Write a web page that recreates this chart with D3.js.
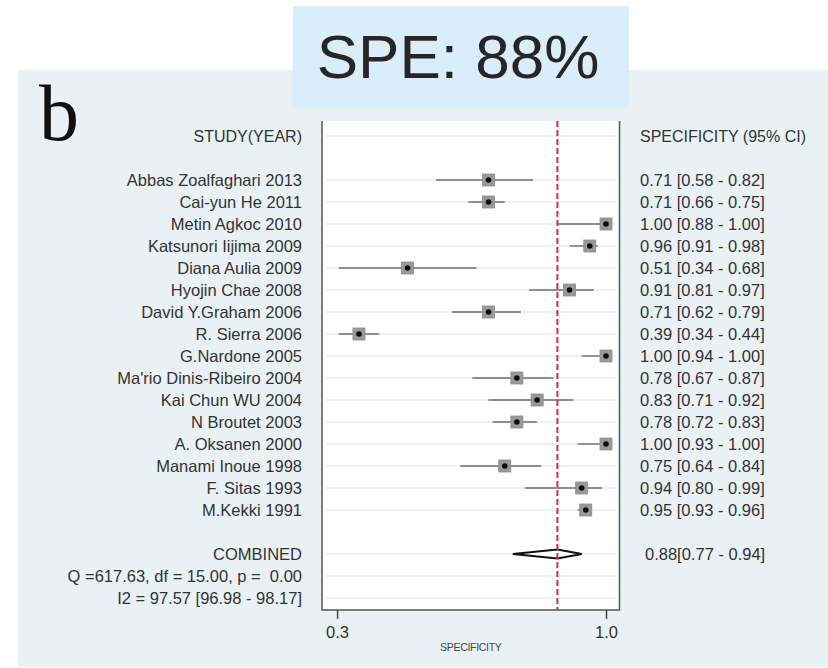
<!DOCTYPE html>
<html>
<head>
<meta charset="utf-8">
<script src="https://cdn.jsdelivr.net/npm/d3@7"></script>
<style>
  body { margin: 0; background: #ffffff; }
  text { font-family: "Liberation Sans", Arial, sans-serif; fill: #333333; }
</style>
</head>
<body>
<div id="chart"></div>
<script>
/* DATA */
const studies = [
  "Abbas Zoalfaghari 2013", "Cai-yun He 2011", "Metin Agkoc 2010", "Katsunori Iijima 2009",
  "Diana Aulia 2009", "Hyojin Chae 2008", "David Y.Graham 2006", "R. Sierra 2006",
  "G.Nardone 2005", "Ma'rio Dinis-Ribeiro 2004", "Kai Chun WU 2004", "N Broutet 2003",
  "A. Oksanen 2000", "Manami Inoue 1998", "F. Sitas 1993", "M.Kekki 1991"
];
const spec  = [0.71, 0.71, 1.00, 0.96, 0.51, 0.91, 0.71, 0.39, 1.00, 0.78, 0.83, 0.78, 1.00, 0.75, 0.94, 0.95];
const lower = [0.58, 0.66, 0.88, 0.91, 0.34, 0.81, 0.62, 0.34, 0.94, 0.67, 0.71, 0.72, 0.93, 0.64, 0.80, 0.93];
const upper = [0.82, 0.75, 1.00, 0.98, 0.68, 0.97, 0.79, 0.44, 1.00, 0.87, 0.92, 0.83, 1.00, 0.84, 0.99, 0.96];
const combined = { est: 0.88, lo: 0.77, hi: 0.94 };
const statLines = ["Q =617.63, df = 15.00, p =  0.00", "I2 = 97.57 [96.98 - 98.17]"];
const xTicks = [0.336, 1.0];

/* LAYOUT */
const width = 828, height = 668;
const plot = { left: 322, right: 619.5, top: 121, bottom: 610 };
const fmt = d3.format(".2f");

const svg = d3.select("#chart").append("svg")
  .attr("width", width)
  .attr("height", height);

// panel background + title box
svg.append("rect").attr("x", 18).attr("y", 70).attr("width", width - 18).attr("height", 597)
  .attr("fill", "#e9f1f4");
svg.append("rect").attr("x", 293).attr("y", 6).attr("width", 336).attr("height", 101)
  .attr("fill", "#d9eefa");
svg.append("text").attr("x", 458).attr("y", 78).attr("text-anchor", "middle")
  .attr("font-size", 62).style("fill", "#262626").text("SPE: 88%");
svg.append("text").attr("x", 39).attr("y", 140)
  .style("font-family", "'Liberation Serif', 'Times New Roman', serif")
  .attr("font-size", 80).style("fill", "#111").text("b");

// scales
const xScale = d3.scaleLinear().domain([0.3, 1.0]).range([322.5, 606]);
const yScale = d3.scaleLinear().domain([0, 21]).range([136, 598]);
const studyRow = i => i + 2;

// plot area
svg.append("rect")
  .attr("x", plot.left).attr("y", plot.top)
  .attr("width", plot.right - plot.left).attr("height", plot.bottom - plot.top)
  .attr("fill", "#ffffff");

// grid lines on rows with content
const gridRows = [0].concat(studies.map((d, i) => studyRow(i)), [19, 20, 21]);
svg.append("g").selectAll("line").data(gridRows).join("line")
  .attr("x1", plot.left + 4).attr("x2", plot.right - 3)
  .attr("y1", d => yScale(d)).attr("y2", d => yScale(d))
  .attr("stroke", "#e4ecf0").attr("stroke-width", 1.5);

// frame (left, bottom, right)
svg.append("path")
  .attr("d", `M${plot.left},${plot.top}V${plot.bottom}H${plot.right}V${plot.top}`)
  .attr("fill", "none").attr("stroke", "#555").attr("stroke-width", 1.5);

// axis
const xAxis = d3.axisBottom(xScale)
  .tickValues(xTicks)
  .tickFormat(d3.format(".1f"))
  .tickSize(9)
  .tickPadding(7);
const axisG = svg.append("g")
  .attr("transform", `translate(0,${plot.bottom})`)
  .call(xAxis);
axisG.select(".domain").remove();
axisG.selectAll(".tick line").attr("stroke", "#444").attr("stroke-width", 1.5);
axisG.selectAll(".tick text").attr("font-size", 16.5).style("fill", "#333");

svg.append("text").attr("x", (plot.left + plot.right) / 2).attr("y", 651)
  .attr("text-anchor", "middle").attr("font-size", 10.5).style("letter-spacing", "-0.3px")
  .style("fill", "#444").text("SPECIFICITY");

// confidence intervals
const rows = studies.map((s, i) => ({ name: s, est: spec[i], lo: lower[i], hi: upper[i], row: studyRow(i) }));

svg.append("g").selectAll("line").data(rows).join("line")
  .attr("x1", d => xScale(d.lo)).attr("x2", d => xScale(d.hi))
  .attr("y1", d => yScale(d.row)).attr("y2", d => yScale(d.row))
  .attr("stroke", "#6e6e6e").attr("stroke-width", 1.4);

// markers
const sq = 12;
svg.append("g").selectAll("rect").data(rows).join("rect")
  .attr("x", d => xScale(d.est) - sq / 2).attr("y", d => yScale(d.row) - sq / 2)
  .attr("width", sq).attr("height", sq)
  .attr("fill", "#999").attr("stroke", "#8a8a8a").attr("stroke-width", 0.8);
svg.append("g").selectAll("circle").data(rows).join("circle")
  .attr("cx", d => xScale(d.est)).attr("cy", d => yScale(d.row))
  .attr("r", 2.8).attr("fill", "#0d0d0d");

// combined diamond
const cy = yScale(19);
svg.append("path")
  .attr("d", `M${xScale(combined.lo)},${cy}L${xScale(combined.est)},${cy - 4.5}L${xScale(combined.hi)},${cy}L${xScale(combined.est)},${cy + 4.5}Z`)
  .attr("fill", "#fff").attr("stroke", "#111").attr("stroke-width", 2);

// reference line at pooled estimate
svg.append("line")
  .attr("x1", xScale(combined.est)).attr("x2", xScale(combined.est))
  .attr("y1", plot.top).attr("y2", plot.bottom)
  .attr("stroke", "#d8284f").attr("stroke-width", 2)
  .attr("stroke-dasharray", "6,3");

// left labels
const leftX = 302, rightX = 640;
svg.append("text").attr("x", leftX).attr("y", yScale(0)).attr("dy", "0.36em")
  .attr("text-anchor", "end").attr("font-size", 16).text("STUDY(YEAR)");
svg.append("text").attr("x", rightX).attr("y", yScale(0)).attr("dy", "0.36em")
  .attr("font-size", 16).text("SPECIFICITY (95% CI)");

svg.append("g").selectAll("text").data(rows).join("text")
  .attr("x", leftX).attr("y", d => yScale(d.row)).attr("dy", "0.36em")
  .attr("text-anchor", "end").attr("font-size", 16.5)
  .text(d => d.name);

svg.append("g").selectAll("text").data(rows).join("text")
  .attr("x", rightX).attr("y", d => yScale(d.row)).attr("dy", "0.36em")
  .attr("font-size", 16.5)
  .text(d => `${fmt(d.est)} [${fmt(d.lo)} - ${fmt(d.hi)}]`);

svg.append("text").attr("x", leftX).attr("y", yScale(19)).attr("dy", "0.36em")
  .attr("text-anchor", "end").attr("font-size", 16.5).text("COMBINED");
svg.append("text").attr("x", rightX + 5).attr("y", yScale(19)).attr("dy", "0.36em")
  .attr("font-size", 16.5)
  .text(`${fmt(combined.est)}[${fmt(combined.lo)} - ${fmt(combined.hi)}]`);

svg.append("g").selectAll("text").data(statLines).join("text")
  .attr("x", leftX).attr("y", (d, i) => yScale(20 + i)).attr("dy", "0.36em")
  .attr("text-anchor", "end").attr("font-size", 16.5)
  .style("white-space", "pre")
  .text(d => d);
</script>
</body>
</html>
